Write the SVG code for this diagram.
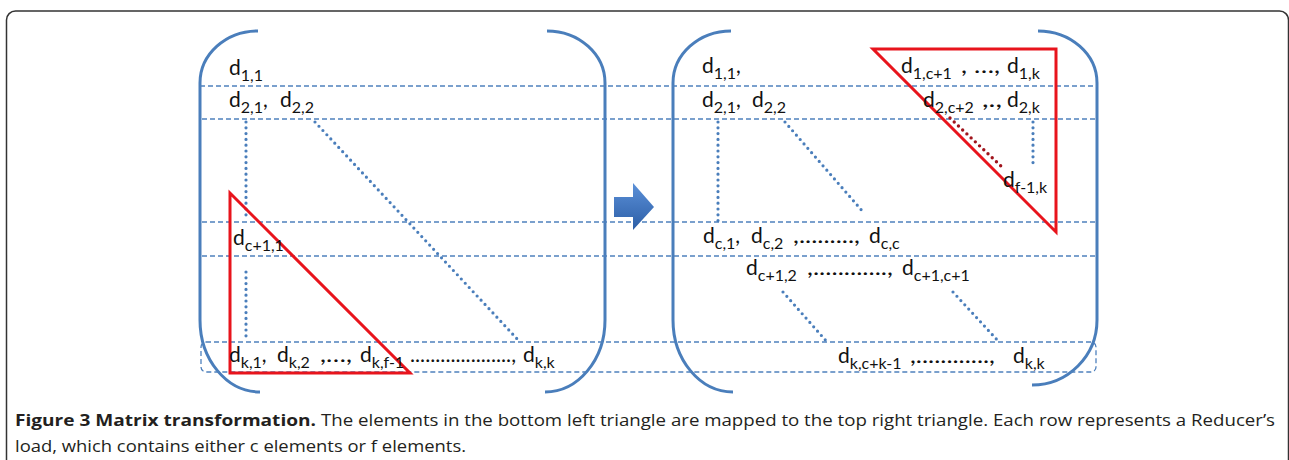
<svg xmlns="http://www.w3.org/2000/svg" width="1289" height="460" viewBox="0 0 1289 460">
<style>
.frame{fill:none;stroke:#333;stroke-width:1.5}
.br{fill:none;stroke:#4a7ebb;stroke-width:3}
.dash{fill:none;stroke:#4f81bd;stroke-width:1.3;stroke-dasharray:5 3}
.dot{fill:none;stroke:#4a7ebb;stroke-width:3.2;stroke-dasharray:0 5.8;stroke-linecap:round}
.rdot{fill:none;stroke:#a0141c;stroke-width:3.4;stroke-dasharray:0 5.8;stroke-linecap:round}
.tri{fill:none;stroke:#e8141c;stroke-width:3;stroke-linejoin:miter}
text{font-family:Lato,"Open Sans","Liberation Sans",sans-serif;font-size:21px;fill:#111}
.s{font-size:16px}
.cap{font-family:"Open Sans","Liberation Sans",sans-serif;font-size:16px;fill:#231f20}
.capb{font-family:"Open Sans","Liberation Sans",sans-serif;font-size:16px;font-weight:bold;fill:#231f20}
</style>
<defs>
<linearGradient id="ag" x1="0" y1="0" x2="0" y2="1">
<stop offset="0" stop-color="#5b90d8"/>
<stop offset="1" stop-color="#2c5ea6"/>
</linearGradient>
</defs>
<rect class="frame" x="6.5" y="11" width="1282" height="480" rx="9"/>

<g id="left-matrix">
<path class="br" d="M258,31 A58,52 0 0 0 200,83 L200,320 A60,72 0 0 0 260,392"/>
<path class="br" d="M547,31 A58,52 0 0 1 605,83 L605,320 A60,72 0 0 1 545,392"/>
</g>
<g id="right-matrix">
<path class="br" d="M731,31 A58,52 0 0 0 673,83 L673,320 A60,72 0 0 0 733,392"/>
<path class="br" d="M1038,31 A59,52 0 0 1 1097,83 L1097,320 A65,65 0 0 1 1032,385"/>
</g>

<g id="rows">
<line class="dash" x1="200" y1="86" x2="1097" y2="86"/>
<line class="dash" x1="202" y1="119" x2="1097" y2="119"/>
<line class="dash" x1="202" y1="222" x2="1097" y2="222"/>
<line class="dash" x1="202" y1="256" x2="1097" y2="256"/>
<rect class="dash" x="201" y="342" width="895" height="30" rx="5"/>
</g>

<g id="connectors">
<line class="dot" x1="246" y1="122" x2="246" y2="218"/>
<line class="dot" x1="246" y1="272" x2="246" y2="340"/>
<line class="dot" x1="315" y1="122" x2="520" y2="342"/>
<line class="dot" x1="718" y1="122" x2="718" y2="222"/>
<line class="dot" x1="785" y1="122" x2="864" y2="213"/>
<line class="rdot" x1="950" y1="118" x2="1002" y2="167"/>
<line class="dot" x1="1033" y1="122" x2="1033" y2="168"/>
<line class="dot" x1="783" y1="292" x2="828" y2="343"/>
<line class="dot" x1="953" y1="292" x2="1000" y2="343"/>
</g>

<g id="triangles">
<polygon class="tri" points="230,193 230,373 410,373"/>
<polygon class="tri" points="873,49 1056,49 1056,232"/>
</g>

<g id="arrow">
<polygon fill="url(#ag)" points="614,197 633,197 633,183 654,207 633,230 633,217 614,217"/>
</g>

<g id="left-labels">
<text x="229" y="75">d<tspan class="s" dy="6">1,1</tspan></text>
<text x="229" y="107">d<tspan class="s" dy="6">2,1</tspan><tspan dy="-6">,</tspan></text>
<text x="280" y="107">d<tspan class="s" dy="6">2,2</tspan></text>
<text x="233" y="245">d<tspan class="s" dy="6">c+1,1</tspan></text>
<text x="229" y="362">d<tspan class="s" dy="6">k,1</tspan><tspan dy="-6">,</tspan></text>
<text x="277" y="362">d<tspan class="s" dy="6">k,2</tspan></text>
<text x="320" y="362" textLength="32" lengthAdjust="spacingAndGlyphs">,…,</text>
<text x="360" y="362">d<tspan class="s" dy="6">k,f-1</tspan></text>
<text x="410" y="362" textLength="106" lengthAdjust="spacingAndGlyphs">....................,</text>
<text x="523" y="362">d<tspan class="s" dy="6">k,k</tspan></text>
</g>

<g id="right-labels">
<text x="702" y="73">d<tspan class="s" dy="6">1,1</tspan><tspan dy="-6">,</tspan></text>
<text x="702" y="107">d<tspan class="s" dy="6">2,1</tspan><tspan dy="-6">,</tspan></text>
<text x="752" y="107">d<tspan class="s" dy="6">2,2</tspan></text>
<text x="901" y="73">d<tspan class="s" dy="6">1,c+1</tspan></text>
<text x="961" y="73" textLength="39" lengthAdjust="spacingAndGlyphs">, …,</text>
<text x="1007" y="73">d<tspan class="s" dy="6">1,k</tspan></text>
<text x="923" y="107">d<tspan class="s" dy="6">2,c+2</tspan></text>
<text x="982" y="107" textLength="20" lengthAdjust="spacingAndGlyphs">,.,</text>
<text x="1007" y="107">d<tspan class="s" dy="6">2,k</tspan></text>
<text x="1003" y="187">d<tspan class="s" dy="6">f-1,k</tspan></text>
<text x="703" y="243">d<tspan class="s" dy="6">c,1</tspan><tspan dy="-6">,</tspan></text>
<text x="751" y="243">d<tspan class="s" dy="6">c,2</tspan></text>
<text x="793" y="243" textLength="67" lengthAdjust="spacingAndGlyphs">,.........,</text>
<text x="869" y="243">d<tspan class="s" dy="6">c,c</tspan></text>
<text x="746" y="275">d<tspan class="s" dy="6">c+1,2</tspan></text>
<text x="807" y="275" textLength="86" lengthAdjust="spacingAndGlyphs">,............,</text>
<text x="902" y="275">d<tspan class="s" dy="6">c+1,c+1</tspan></text>
<text x="838" y="363">d<tspan class="s" dy="6">k,c+k-1</tspan></text>
<text x="910" y="363" textLength="85" lengthAdjust="spacingAndGlyphs">,............,</text>
<text x="1013" y="363">d<tspan class="s" dy="6">k,k</tspan></text>
</g>

<g id="caption">
<text class="capb" x="15" y="426" textLength="301" lengthAdjust="spacingAndGlyphs">Figure 3 Matrix transformation.</text>
<text class="cap" x="321" y="426" textLength="954" lengthAdjust="spacingAndGlyphs">The elements in the bottom left triangle are mapped to the top right triangle. Each row represents a Reducer’s</text>
<text class="cap" x="15" y="452" textLength="451" lengthAdjust="spacingAndGlyphs">load, which contains either c elements or f elements.</text>
</g>
</svg>
